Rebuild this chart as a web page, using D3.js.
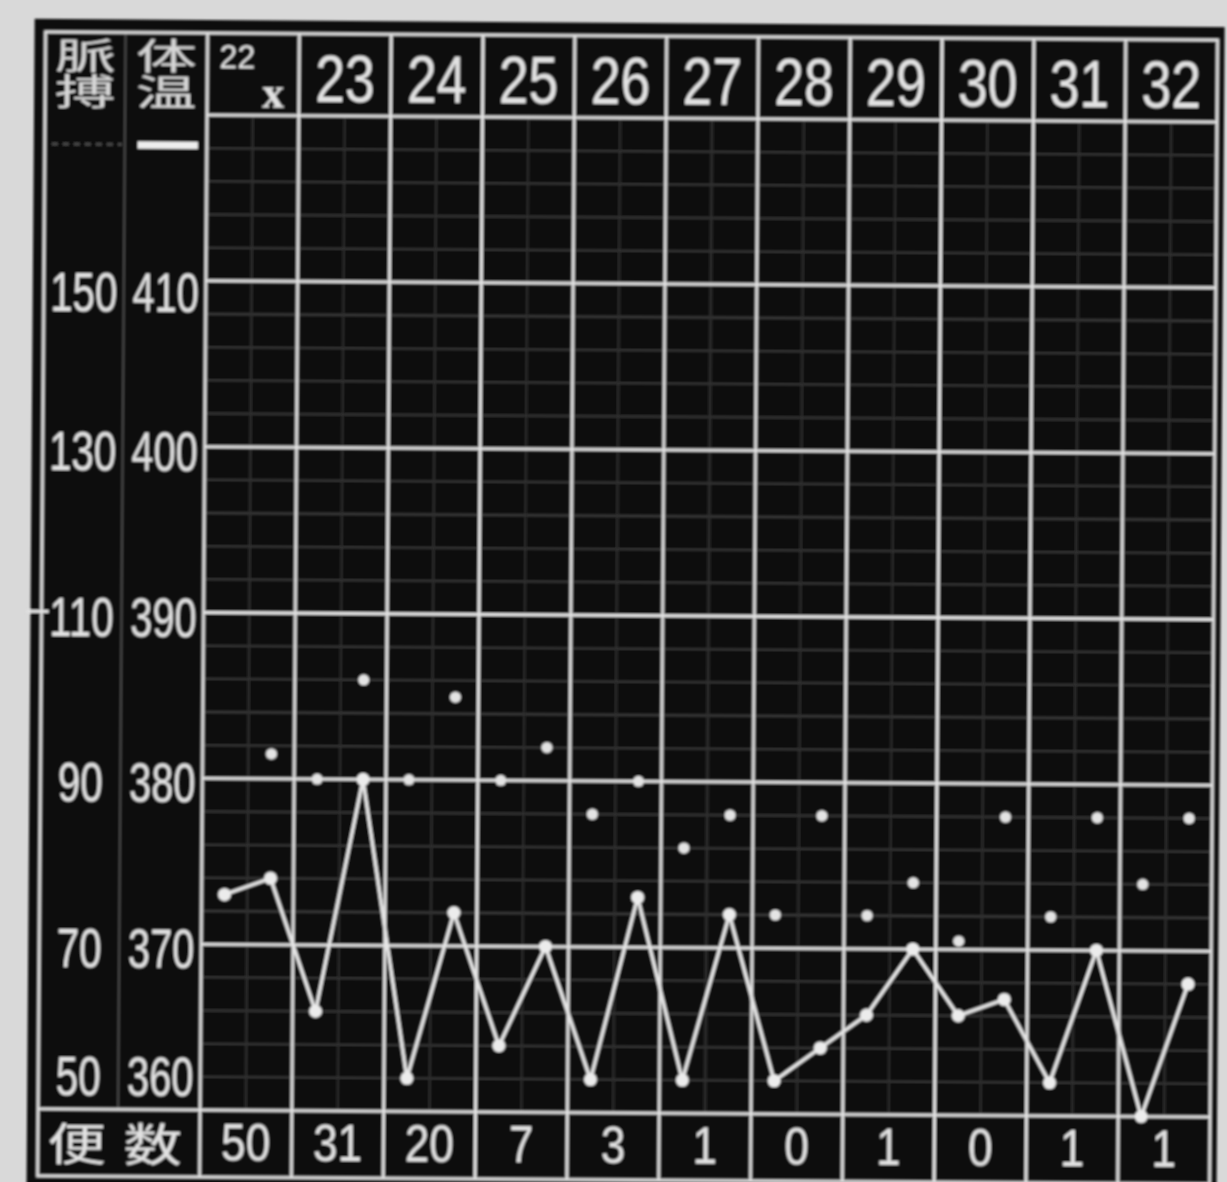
<!DOCTYPE html>
<html><head><meta charset="utf-8">
<script src="https://cdn.jsdelivr.net/npm/d3@7"></script>
<style>html,body{margin:0;padding:0;background:#d9d9d9;overflow:hidden}svg{display:block}</style>
</head><body>
<svg id="c" width="1227" height="1182"></svg>
<script>
// ---- data ----
const days = ["22","23","24","25","26","27","28","29","30","31","32"];
const monthMark = "x";
const tempAM  = [37.3,36.6,36.2,36.4,36.2,36.2,36.2,36.6,36.6,36.2,36.0];
const tempPM  = [37.4,38.0,37.2,37.0,37.3,37.2,36.4,37.0,36.7,37.0,36.8];
const pulseAM = [null,90,90,90,86,82,74,74,71,74,78];
const pulsePM = [93,102,100,94,90,86,86,78,86,86,86];
const stools  = [50,31,20,7,3,1,0,1,0,1,1];
const tempTicks  = [36,37,38,39,40,41];
const pulseTicks = [50,70,90,110,130,150];
const headPulse = "脈搏";
const headTemp  = "体温";
const rowStool  = ["便","数"];

// ---- layout ----
const L = {frameL:45, colDiv:125, left:207, right:1217, top:33, head:115, base:1110, bottom:1177};
const svg = d3.select("#c");
const defs = svg.append("defs");
defs.append("filter").attr("id","soft").append("feGaussianBlur").attr("stdDeviation",0.8);

const x = d3.scaleBand().domain(days).range([L.left, L.right]);
const sub = d3.scaleBand().domain([0,1]).range([0, x.bandwidth()]);
const yT = d3.scaleLinear().domain([36,42]).range([L.base, L.head]);
const yP = d3.scaleLinear().domain([50,170]).range([L.base, L.head]);
const px = (d,s) => x(d) + sub(s) + sub.bandwidth()/2;

const g = svg.append("g").attr("transform","rotate(0.4,207,115)").attr("filter","url(#soft)");
const ink = "#e2e2e2";
g.append("rect").attr("x",34).attr("y",20).attr("width",1190).attr("height",1200).attr("fill","#0a0a0a");

// minor horizontal grid (0.2 degree)
const minorT = d3.range(36.2, 42, 0.2).filter(v => Math.abs(v - Math.round(v)) > 0.05);
g.append("g").selectAll("line").data(minorT).join("line")
  .attr("x1",L.left).attr("x2",L.right).attr("y1",d=>yT(d)).attr("y2",d=>yT(d))
  .attr("stroke","#3a3a3a").attr("stroke-width",2);
// minor vertical grid (half-day)
g.append("g").selectAll("line").data(days).join("line")
  .attr("x1",d=>x(d)+x.bandwidth()/2).attr("x2",d=>x(d)+x.bandwidth()/2)
  .attr("y1",L.head).attr("y2",L.base).attr("stroke","#303030").attr("stroke-width",2);
// label column divider
g.append("line").attr("x1",L.colDiv).attr("x2",L.colDiv).attr("y1",L.top).attr("y2",L.base)
  .attr("stroke","#444").attr("stroke-width",2.5);
// major horizontal grid
g.append("g").selectAll("line").data(tempTicks.filter(t=>t>36)).join("line")
  .attr("x1",L.left).attr("x2",L.right).attr("y1",d=>yT(d)).attr("y2",d=>yT(d))
  .attr("stroke",ink).attr("stroke-width",3);
g.append("line").attr("x1",L.left).attr("x2",L.right).attr("y1",L.head).attr("y2",L.head).attr("stroke",ink).attr("stroke-width",3);
g.append("line").attr("x1",L.frameL).attr("x2",L.right).attr("y1",yT(36)).attr("y2",yT(36)).attr("stroke",ink).attr("stroke-width",3);
// day verticals
g.append("g").selectAll("line").data(days).join("line")
  .attr("x1",d=>x(d)).attr("x2",d=>x(d)).attr("y1",L.top).attr("y2",L.bottom)
  .attr("stroke",ink).attr("stroke-width",3);
// frame
g.append("rect").attr("x",L.frameL).attr("y",L.top).attr("width",L.right-L.frameL).attr("height",L.bottom-L.top)
  .attr("fill","none").attr("stroke",ink).attr("stroke-width",3);
g.append("line").attr("x1",30).attr("x2",52).attr("y1",yT(39)).attr("y2",yT(39)).attr("stroke",ink).attr("stroke-width",3);

// header: day numbers
const sans = "'Liberation Sans', Arial, sans-serif";
g.append("g").selectAll("text").data(days.slice(1)).join("text")
  .attr("transform",d=>`translate(${x(d)+x.bandwidth()/2},101) scale(0.8,1)`)
  .attr("text-anchor","middle").attr("font-family",sans).attr("font-size",67).attr("fill",ink).text(d=>d);
g.append("text").attr("transform",`translate(${x(days[0])+30},68) scale(0.95,1)`).attr("text-anchor","middle")
  .attr("font-family",sans).attr("font-size",34).attr("fill",ink).text(days[0]);
g.append("text").attr("x",x(days[0])+66).attr("y",107).attr("text-anchor","middle")
  .attr("font-family","'Liberation Serif', serif").attr("font-weight","bold").attr("font-size",44).attr("fill",ink).text(monthMark);

// header: 脈搏 / 体温 (vertical writing, one text each)
const cjk = "'Noto Sans CJK JP', sans-serif";
[[headPulse,(L.frameL+L.colDiv)/2],[headTemp,(L.colDiv+L.left)/2]].forEach(([txt,cx])=>{
  g.append("text").attr("transform",`translate(${cx},74) scale(1.7,1)`)
    .attr("text-anchor","middle").style("writing-mode","vertical-rl")
    .attr("font-family",cjk).attr("font-size",36).attr("fill","#d6d6d6").text(txt);
});
// legend marks
g.append("rect").attr("x",138).attr("y",142).attr("width",60).attr("height",7).attr("fill","#eee");
g.append("line").attr("x1",52).attr("x2",122).attr("y1",145).attr("y2",145).attr("stroke","#4a4a4a").attr("stroke-width",3).attr("stroke-dasharray","6,5");

// axis labels
const labOff = t => t===36 ? -34 : (t===41 ? 11 : 4);
g.append("g").selectAll("text").data(pulseTicks).join("text")
  .attr("transform",(d,i)=>`translate(${(L.frameL+L.colDiv)/2},${yP(d)+labOff(tempTicks[i])+20}) scale(0.72,1)`)
  .attr("text-anchor","middle").attr("font-family",sans).attr("font-size",56).attr("fill",ink).text(d=>d);
g.append("g").selectAll("text").data(tempTicks).join("text")
  .attr("transform",d=>`translate(${(L.colDiv+L.left)/2+1},${yT(d)+labOff(d)+20}) scale(0.71,1)`)
  .attr("text-anchor","middle").attr("font-family",sans).attr("font-size",56).attr("fill",ink).text(d=>Math.round(d*10));

// stool row
g.append("g").selectAll("text").data(rowStool).join("text")
  .attr("transform",(d,i)=>`translate(${84+i*76},1162) scale(1.3,1)`)
  .attr("text-anchor","middle").attr("font-family",cjk).attr("font-size",45).attr("fill",ink).text(d=>d);
g.append("g").selectAll("text").data(stools).join("text")
  .attr("transform",(d,i)=>`translate(${x(days[i])+x.bandwidth()/2},1160) scale(0.85,1)`)
  .attr("text-anchor","middle").attr("font-family",sans).attr("font-size",52).attr("fill",ink).text(d=>d);

// temperature line
const tempPts = days.flatMap((d,i)=>[{d,s:0,v:tempAM[i]},{d,s:1,v:tempPM[i]}]);
g.append("path").datum(tempPts)
  .attr("d",d3.line().x(p=>px(p.d,p.s)).y(p=>yT(p.v)))
  .attr("fill","none").attr("stroke","#e6e6e6").attr("stroke-width",3.5).attr("stroke-linejoin","round");
g.append("g").selectAll("circle").data(tempPts).join("circle")
  .attr("cx",p=>px(p.d,p.s)).attr("cy",p=>yT(p.v)).attr("r",6.5).attr("fill","#ececec");

// pulse dots
const pulsePts = days.flatMap((d,i)=>[{d,s:0,v:pulseAM[i]},{d,s:1,v:pulsePM[i]}]).filter(p=>p.v!=null);
g.append("g").selectAll("circle").data(pulsePts).join("circle")
  .attr("cx",p=>px(p.d,p.s)).attr("cy",p=>yP(p.v)).attr("r",5.5).attr("fill","#e4e4e4");
</script>
</body></html>
